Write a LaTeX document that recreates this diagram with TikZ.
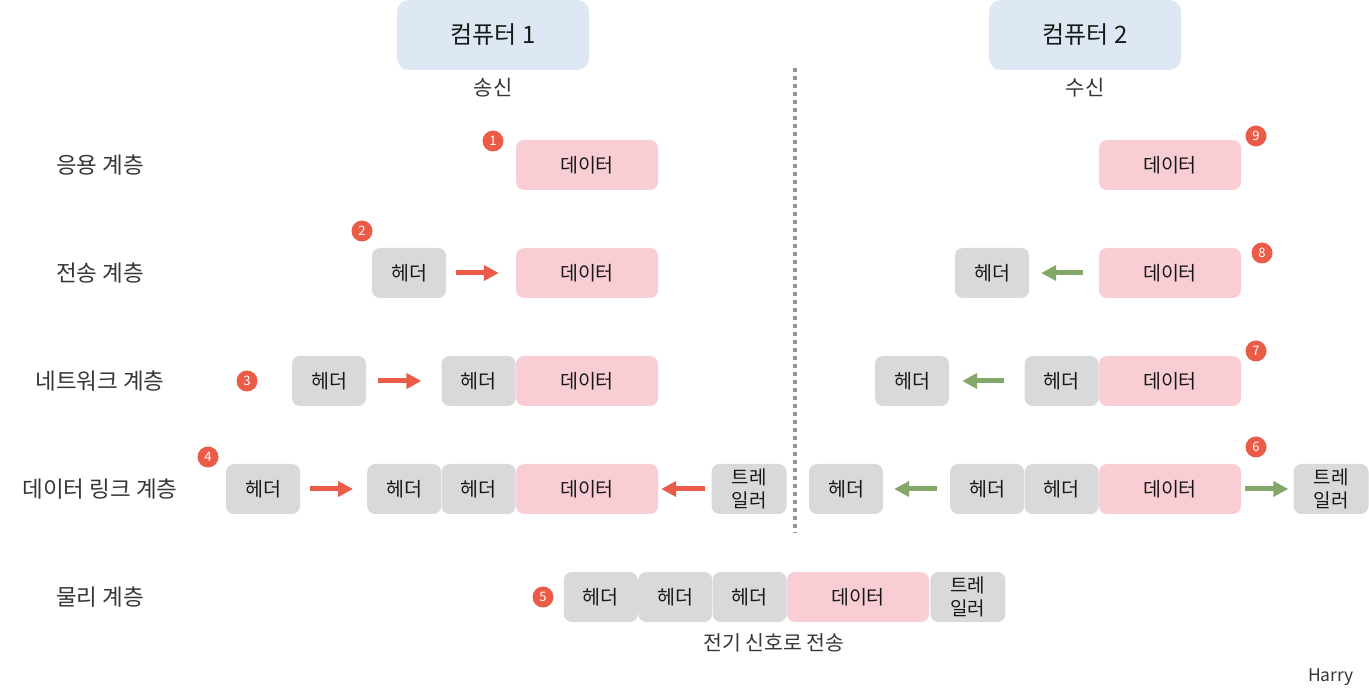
\documentclass[tikz,border=0pt]{standalone}
\usepackage{fontspec}
\setmainfont{Noto Sans CJK KR}
\usetikzlibrary{shapes, arrows.meta, positioning}

\definecolor{pcblue}{HTML}{DDE8F4}
\definecolor{hdgray}{HTML}{D9D9D9}
\definecolor{dtpink}{HTML}{F8CED4}
\definecolor{badgered}{HTML}{EB5C48}
\definecolor{arrred}{HTML}{EB5C48}
\definecolor{arrgreen}{HTML}{82A766}
\definecolor{labelgray}{HTML}{363636}

\begin{document}
\begin{tikzpicture}[x=1pt, y=-1pt, font=\fontsize{19.5}{23}\selectfont,
    box/.style={rounded corners=8pt, minimum height=50pt, inner sep=0pt, text=black!90},
    hd/.style={box, fill=hdgray, minimum width=74pt},
    dt/.style={box, fill=dtpink, minimum width=142pt},
    tr/.style={box, fill=hdgray, minimum width=75pt, align=center, font=\fontsize{19}{23}\selectfont},
    pc/.style={rounded corners=12pt, fill=pcblue, minimum width=192pt, minimum height=70pt, inner sep=0pt, text=black!90, font=\fontsize{24}{28}\selectfont},
    num/.style={circle, fill=badgered, text=white, minimum size=21pt, inner sep=0pt, font=\fontsize{13}{13}\selectfont},
    layer/.style={text=labelgray, font=\fontsize{22.5}{26}\selectfont},
    side/.style={text=labelgray, font=\fontsize{21}{24}\selectfont},
    send/.style={draw=arrred, line width=5pt, -{Triangle[length=15pt, width=15pt]}},
    recv/.style={draw=arrgreen, line width=5pt, -{Triangle[length=15pt, width=15pt]}}]
    % 계층별 캡슐화와 역캡슐화
    \useasboundingbox (0,0) rectangle (1369,700);

    \node[pc] (pc1) at (493,35) {컴퓨터 1};
    \node[pc] (pc2) at (1085,35) {컴퓨터 2};
    \node[side] (snd) at (493,88) {송신};
    \node[side] (rcv) at (1085,88) {수신};
    \draw[draw=gray!85, line width=4pt, dash pattern=on 4pt off 4pt] (795,68) -- (795,533);

    \node[layer] (l1) at (100,165) {응용 계층};
    \node[layer] (l2) at (100,273) {전송 계층};
    \node[layer] (l3) at (100,381) {네트워크 계층};
    \node[layer] (l4) at (100,489) {데이터 링크 계층};
    \node[layer] (l5) at (100,597) {물리 계층};

    % 송신 측
    \node[dt] (d1l) at (587,165) {데이터};
    \node[num] (n1) at (493,141) {1};

    \node[dt] (d2l) at (587,273) {데이터};
    \node[hd] (h2l) at (409,273) {헤더};
    \node[num] (n2) at (362,231) {2};
    \draw[send, shorten <=10pt, shorten >=17pt] (h2l) -- (d2l);

    \node[dt] (d3l) at (587,381) {데이터};
    \node[hd, left=0pt of d3l] (h3l) {헤더};
    \node[hd] (h3a) at (329,381) {헤더};
    \node[num] (n3) at (247,381) {3};
    \draw[send, shorten <=12pt, shorten >=20pt] (h3a) -- (h3l);

    \node[dt] (d4l) at (587,489) {데이터};
    \node[hd, left=0pt of d4l] (h4c) {헤더};
    \node[hd, left=0pt of h4c] (h4b) {헤더};
    \node[hd] (h4a) at (263,489) {헤더};
    \node[tr] (t4l) at (749,489) {트레\\일러};
    \node[num] (n4) at (208,457) {4};
    \draw[send, shorten <=10pt, shorten >=14pt] (h4a) -- (h4b);
    \draw[send, shorten <=6pt, shorten >=3pt] (t4l) -- (d4l);

    % 물리 계층
    \node[dt] (d5) at (858,597) {데이터};
    \node[hd, left=0pt of d5] (h5c) {헤더};
    \node[hd, left=0pt of h5c] (h5b) {헤더};
    \node[hd, left=0pt of h5b] (h5a) {헤더};
    \node[tr, right=1pt of d5] (t5) {트레\\일러};
    \node[num] (n5) at (543,597) {5};
    \node[side, font=\fontsize{20.5}{24}\selectfont] (cap5) at (774,643) {전기 신호로 전송};

    % 수신 측
    \node[dt] (d1r) at (1170,165) {데이터};
    \node[num] (n9) at (1256,136) {9};

    \node[dt] (d2r) at (1170,273) {데이터};
    \node[hd] (h2r) at (992,273) {헤더};
    \node[num] (n8) at (1262,253) {8};
    \draw[recv, shorten <=16pt, shorten >=12pt] (d2r) -- (h2r);

    \node[dt] (d3r) at (1170,381) {데이터};
    \node[hd, left=0pt of d3r] (h3r) {헤더};
    \node[hd] (h3ra) at (912,381) {헤더};
    \node[num] (n7) at (1256,351) {7};
    \draw[recv, shorten <=20pt, shorten >=13pt] (h3r) -- (h3ra);

    \node[dt] (d4r) at (1170,489) {데이터};
    \node[hd, left=0pt of d4r] (h4rc) {헤더};
    \node[hd, left=0pt of h4rc] (h4rb) {헤더};
    \node[hd] (h4ra) at (846,489) {헤더};
    \node[tr] (t4r) at (1331,489) {트레\\일러};
    \node[num] (n6) at (1256,447) {6};
    \draw[recv, shorten <=13pt, shorten >=11pt] (h4rb) -- (h4ra);
    \draw[recv, shorten <=4pt, shorten >=5pt] (d4r) -- (t4r);

    \node[text=labelgray, font=\fontsize{17.5}{20}\selectfont] (sig) at (1331,677) {Harry};
\end{tikzpicture}
\end{document}
